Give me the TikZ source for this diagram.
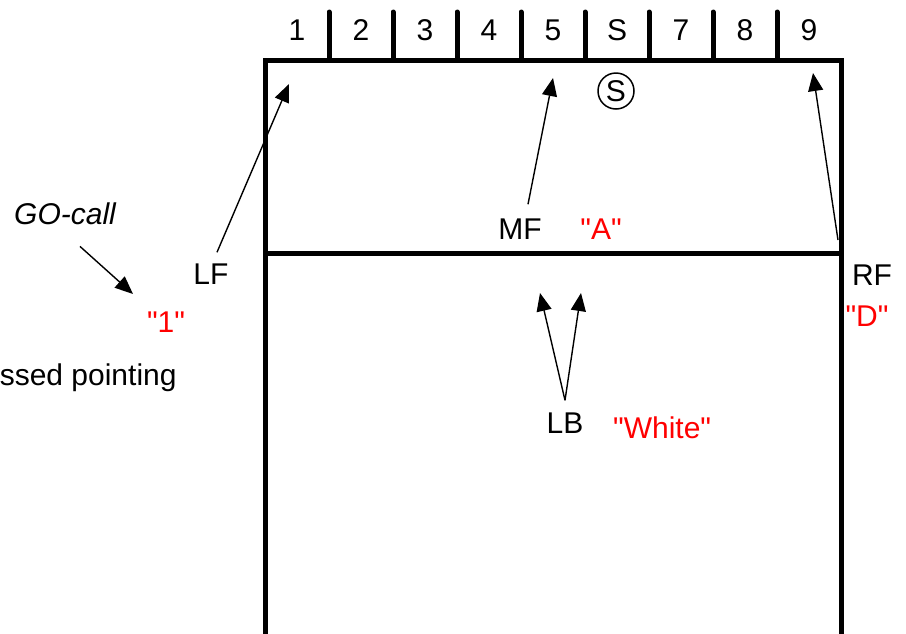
\documentclass[tikz,border=0pt]{standalone}
\usepackage{fontspec}
\setmainfont{Liberation Sans}[Ligatures=TeXOff]
\usepackage{tikz}
\usetikzlibrary{arrows.meta,positioning}
\definecolor{ink}{HTML}{000000}
\definecolor{callred}{HTML}{FF0000}
\tikzset{
  lbl/.style={font=\fontsize{15}{17}\selectfont, text=ink, inner sep=2pt},
  call/.style={lbl, text=callred},
  court/.style={line width=2.5pt, draw=ink},
  zone/.style={line width=2.5pt, draw=ink, line cap=round},
  flow/.style={-{Triangle[length=9pt,width=7.5pt]}, line width=0.7pt, draw=ink},
}

\begin{document}
\begin{tikzpicture}[x=0.5pt,y=-0.5pt]
  \useasboundingbox (0,0) rectangle (906,633);
  % court
  \draw[court] (265,645) |- (841,60) -- (841,645);
  \draw[court] (265,253) -- (841,253);
  \foreach \i in {1,...,8}
    \draw[zone] (265+64*\i,12) -- (265+64*\i,60);
  \foreach \t [count=\i] in {1,2,3,4,5,S,7,8,9}
    \node[lbl] (z\i) at (233+64*\i,30) {\t};
  \node[lbl, draw=ink, circle, line width=0.75pt, minimum size=18pt, inner sep=0pt] (srv) at (616,91) {S};

  % front row
  \node[lbl] (lf) at (211,274) {LF};
  \node[lbl] (mf) at (520,229) {MF};
  \node[call, right=15pt of mf] (mfcall) {"A"};
  \node[lbl] (rf) at (872,275) {RF};
  \node[call, below=6pt of rf, xshift=-2.5pt] (rfcall) {"D"};
  \coordinate (lftip) at (289,84);
  \coordinate (mftip) at (553,78);
  \coordinate (rfbase) at (838,240);
  \coordinate (rftip) at (813,73);
  \draw[flow] ([shift={(6,-7)}]lf.north) -- (lftip);
  \draw[flow] ([shift={(8,-10)}]mf.north) -- (mftip);
  \draw[flow] (rfbase) -- (rftip);

  % back row
  \node[lbl] (lb) at (565,423) {LB};
  \node[call, right=10.5pt of lb, yshift=-2.5pt] (lbcall) {"White"};
  \coordinate (lbtipa) at (540,293);
  \coordinate (lbtipb) at (581,293);
  \draw[flow] ([yshift=4pt]lb.north) -- (lbtipa);
  \draw[flow] ([yshift=4pt]lb.north) -- (lbtipb);

  % call
  \node[lbl, font=\fontsize{15}{17}\selectfont\itshape] (go) at (65,214) {GO-call};
  \node[call] (gocall) at (166,322) {"1"};
  \coordinate (gotip) at (133,294);
  \draw[flow] ([shift={(15,17)}]go.south) -- (gotip);
  \node[lbl, anchor=base east] (note) at (181,385) {ssed pointing};
\end{tikzpicture}
\end{document}
